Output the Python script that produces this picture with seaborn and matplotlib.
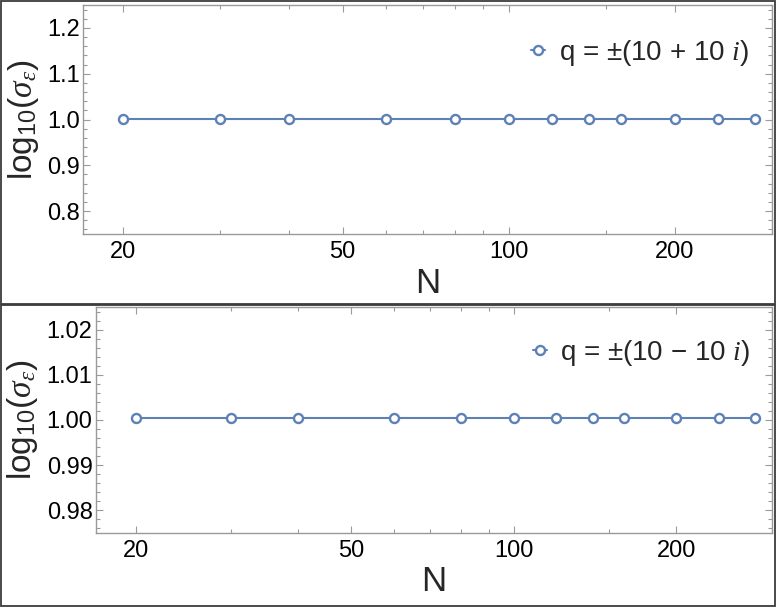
import numpy as np
import pandas as pd
import matplotlib
matplotlib.use("Agg")
import matplotlib.pyplot as plt
import matplotlib.ticker as mticker
from matplotlib.patches import Rectangle
import seaborn as sns

# data
n_values = [20, 30, 40, 60, 80, 100, 120, 140, 160, 200, 240, 280]
sigma_plus = [1.0004] * len(n_values)    # q = ±(10 + 10 i)
sigma_minus = [1.0004] * len(n_values)   # q = ±(10 - 10 i)
labels = ["q = ±(10 + 10 $i$)", "q = ±(10 − 10 $i$)"]
x_major = [20, 50, 100, 200]
x_minor = [30, 40, 60, 70, 80, 90, 150, 300]

sns.set_style("ticks")
plt.rcParams['font.family'] = ['Liberation Sans', 'DejaVu Sans']
plt.rcParams['mathtext.fontset'] = 'custom'
plt.rcParams['mathtext.rm'] = 'Liberation Sans'
plt.rcParams['mathtext.it'] = 'Liberation Serif:italic'
plt.rcParams['mathtext.sf'] = 'Liberation Sans'

blue = '#5E81B5'
frame_gray = '#9a9a9a'

fig = plt.figure(figsize=(7.77, 6.10), dpi=100)
W, H = 777, 610

def px_axes(left, top, right, bottom):
    return fig.add_axes([left / W, 1 - bottom / H, (right - left) / W, (bottom - top) / H])

ax_top = px_axes(83, 5, 772, 234)
ax_bot = px_axes(96, 307, 772, 533)

panels = [
    (ax_top, sigma_plus, labels[0], (0.75, 1.25), [0.8, 0.9, 1.0, 1.1, 1.2], 0.02, '%.1f', (0.650, 0.790), -0.087),
    (ax_bot, sigma_minus, labels[1], (0.975, 1.025), [0.98, 0.99, 1.00, 1.01, 1.02], 0.002, '%.2f', (0.646, 0.796), -0.108),
]

for ax, vals, lab, ylim, yticks, yminor, yfmt, leg_pos, ylab_x in panels:
    df = pd.DataFrame({'N': n_values, 'sigma': vals})
    sns.lineplot(data=df, x='N', y='sigma', ax=ax, color=blue, linewidth=1.5,
                 marker='o', markersize=6.5, markerfacecolor='white',
                 markeredgecolor=blue, markeredgewidth=1.7, label=lab)
    ax.set_xscale('log')
    ax.set_xlim(16.9, 300.5)
    ax.set_ylim(*ylim)
    ax.xaxis.set_major_locator(mticker.FixedLocator(x_major))
    ax.xaxis.set_major_formatter(mticker.FixedFormatter([str(v) for v in x_major]))
    ax.xaxis.set_minor_locator(mticker.FixedLocator(x_minor))
    ax.xaxis.set_minor_formatter(mticker.NullFormatter())
    ax.set_yticks(yticks)
    ax.yaxis.set_major_formatter(mticker.FormatStrFormatter(yfmt))
    ax.yaxis.set_minor_locator(mticker.MultipleLocator(yminor))

    for s in ax.spines.values():
        s.set_visible(True)
        s.set_color(frame_gray)
        s.set_linewidth(1.0)
    ax.tick_params(which='both', direction='in', top=True, right=True,
                   color=frame_gray, labelcolor='black', width=0.8)
    ax.tick_params(which='major', length=5, labelsize=17)
    ax.tick_params(axis='y', which='major', pad=2.5)
    ax.tick_params(axis='x', which='major', pad=5)
    ax.tick_params(which='minor', length=3)

    ax.set_xlabel('N', fontsize=25, va='center')
    ax.xaxis.set_label_coords(0.5, -0.216)
    ax.set_ylabel(r'log$_{10}$($\sigma_\epsilon$)', fontsize=24, va='center')
    ax.yaxis.set_label_coords(ylab_x, 0.5)

    leg = ax.legend(loc='center left', bbox_to_anchor=leg_pos, frameon=False,
                    fontsize=20, handlelength=0.5, handletextpad=0.5,
                    borderpad=0, borderaxespad=0)

# outer boxes around each panel
for (y0, y1) in [(1, 304), (305, 606)]:
    fig.patches.append(Rectangle((1 / W, 1 - y1 / H), 774 / W, (y1 - y0) / H,
                                 transform=fig.transFigure, fill=False,
                                 edgecolor='#3c3c3c', linewidth=1.3))

fig.savefig('out.png', dpi=100)
